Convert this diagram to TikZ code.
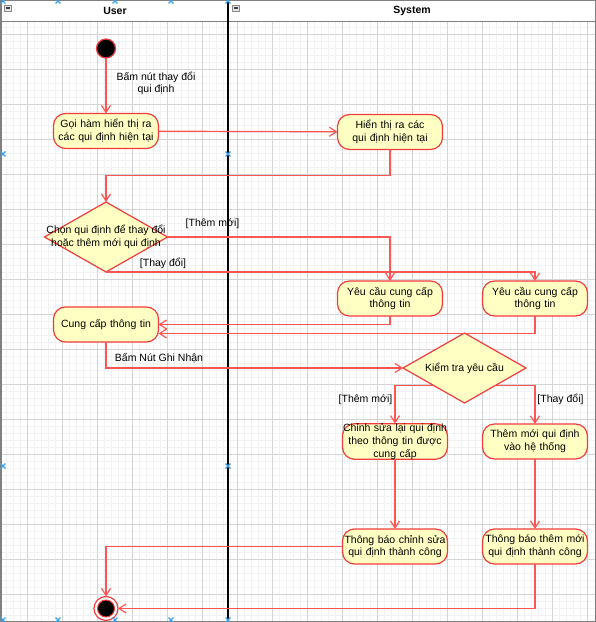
\documentclass[tikz,border=0pt]{standalone}
\usepackage{fontspec}
\setmainfont{Liberation Sans}
\usetikzlibrary{shapes.geometric,arrows.meta}

\definecolor{lineRed}{RGB}{255,85,85}
\definecolor{nodeRed}{RGB}{240,60,60}
\definecolor{nodeFill}{RGB}{255,255,196}
\definecolor{gridMajor}{RGB}{212,212,212}
\definecolor{gridMinor}{RGB}{242,242,242}
\definecolor{handleBlue}{RGB}{60,160,230}

\newcommand{\umlfont}{\fontsize{10.5bp}{12.7bp}\selectfont}

\tikzset{
  lanehead/.style={font=\umlfont\bfseries},
  activity/.style={rectangle, rounded corners=12bp, draw=nodeRed, fill=nodeFill, line width=1.2bp,
    text width=105bp, align=center, inner sep=0pt, outer sep=0pt, minimum height=35bp, font=\umlfont},
  decision/.style={diamond, draw=nodeRed, fill=nodeFill, line width=1.2bp,
    inner sep=0pt, outer sep=0pt, minimum width=123bp, minimum height=70bp},
  startstate/.style={circle, draw=nodeRed, fill=black, line width=1.2bp, minimum size=19bp, inner sep=0pt, outer sep=0pt},
  endstate/.style={circle, draw=nodeRed, fill=white, line width=1.2bp, minimum size=24bp, inner sep=0pt, outer sep=0pt,
    path picture={\draw[nodeRed, fill=black, line width=1bp] (path picture bounding box.center) circle (8.5bp);}},
  guard/.style={font=\umlfont, align=center, inner sep=0pt},
  flow/.style={draw=lineRed, line width=1.2bp, -{Straight Barb[length=7bp,width=9bp]}},
  handle/.style={handleBlue, line width=1.2bp}
}

\begin{document}
\begin{tikzpicture}[x=1bp,y=-1bp]
    \useasboundingbox (0,0) rectangle (596,622);
    % swimlanes
    \fill[white] (0,0) rectangle (596,622);
    \begin{scope}
        \clip (1.5,21.5) rectangle (594.5,620.5);
        \foreach \x in {-0.5,6.5,...,600} \draw[gridMinor, line width=0.8bp] (\x,21) -- (\x,621);
        \foreach \y in {20,27,...,625} \draw[gridMinor, line width=0.8bp] (1,\y) -- (595,\y);
        \foreach \x in {27.5,62.5,...,600} \draw[gridMajor, line width=0.8bp] (\x,21) -- (\x,621);
        \foreach \y in {34,69,...,625} \draw[gridMajor, line width=0.8bp] (1,\y) -- (595,\y);
    \end{scope}
    \draw[black!50, line width=1bp] (1,21.5) -- (595,21.5);
    \draw[black!50, line width=1.5bp] (0.75,0.75) rectangle (595.25,621.25);
    \draw[black, line width=1.3bp] (228,0.75) -- (228,621.25);
    \foreach \x in {4,232} {
        \draw[black!45, fill=black!10, line width=0.6bp] (\x,5) rectangle ++(7,6);
        \draw[black!75, line width=1.2bp] (\x+1.5,8) -- ++(4,0);
    }
    \node[lanehead] (userHead) at (115,11) {User};
    \node[lanehead] (systemHead) at (412,11) {System};

    % activities
    \node[startstate] (start) at (106,48.5) {};
    \node[activity] (goiHam) at (106,131) {Gọi hàm hiển thị ra\\các qui định hiện tại};
    \node[activity] (hienThi) at (390,132) {Hiển thị ra các\\qui định hiện tại};
    \node[decision, label={[font=\umlfont, align=center]center:Chọn qui định để thay đổi\\hoặc thêm mới qui định}] (chon) at (106,237) {};
    \node[activity] (yeuCau1) at (390,298.5) {Yêu cầu cung cấp\\thông tin};
    \node[activity] (yeuCau2) at (535,298.5) {Yêu cầu cung cấp\\thông tin};
    \node[activity] (cungCap) at (106,324.5) {Cung cấp thông tin};
    \node[decision, label={[font=\umlfont]center:Kiểm tra yêu cầu}] (kiemTra) at (464.5,368) {};
    \node[activity] (chinhSua) at (395,441.5) {Chỉnh sửa lại qui định\\theo thông tin được\\cung cấp};
    \node[activity] (themMoi) at (535,441.5) {Thêm mới qui định\\vào hệ thống};
    \node[activity] (tbChinhSua) at (395,546.5) {Thông báo chỉnh sửa\\qui định thành công};
    \node[activity] (tbThemMoi) at (535,546.5) {Thông báo thêm mới\\qui định thành công};
    \node[endstate] (end) at (106,608.5) {};

    % flows
    \draw[flow] (start) -- (goiHam);
    \node[guard] (lblThayDoi) at (156,83.5) {Bấm nút thay đổi\\qui định};
    \draw[flow] (goiHam) -- (hienThi);
    \draw[flow] (hienThi.south) -- ++(0,26) -| (chon.north);
    \draw[flow] (chon.east) -| (yeuCau1.north);
    \node[guard] (lblThem1) at (212.5,223.5) {[Thêm mới]};
    \draw[flow] (chon.south) -| (yeuCau2.north);
    \node[guard] (lblThay1) at (163,263.5) {[Thay đổi]};
    \draw[flow] (yeuCau1.south) |- (cungCap.east);
    \draw[flow] (yeuCau2.south) |- ([yshift=-9bp]cungCap.east);
    \draw[flow] (cungCap.south) |- (kiemTra.west);
    \node[guard] (lblGhiNhan) at (159,358) {Bấm Nút Ghi Nhận};
    \draw[flow] (kiemTra.south west) -| (chinhSua.north);
    \node[guard] (lblThem2) at (365.5,399.5) {[Thêm mới]};
    \draw[flow] (kiemTra.south east) -| (themMoi.north);
    \node[guard] (lblThay2) at (560.5,399.5) {[Thay đổi]};
    \draw[flow] (chinhSua) -- (tbChinhSua);
    \draw[flow] (themMoi) -- (tbThemMoi);
    \draw[flow] (tbChinhSua.west) -| (end.north);
    \draw[flow] (tbThemMoi.south) |- (end.east);

    % lane handles
    \foreach \x/\y in {3/1,58/1,115/1,171/1,228/1,3/154,228/154,3/466,228/466,3/620,58/620,115/620,171/620,228/620}
        \draw[handle] (\x-2.5,\y-2.5) -- (\x+2.5,\y+2.5) (\x-2.5,\y+2.5) -- (\x+2.5,\y-2.5);
\end{tikzpicture}
\end{document}
